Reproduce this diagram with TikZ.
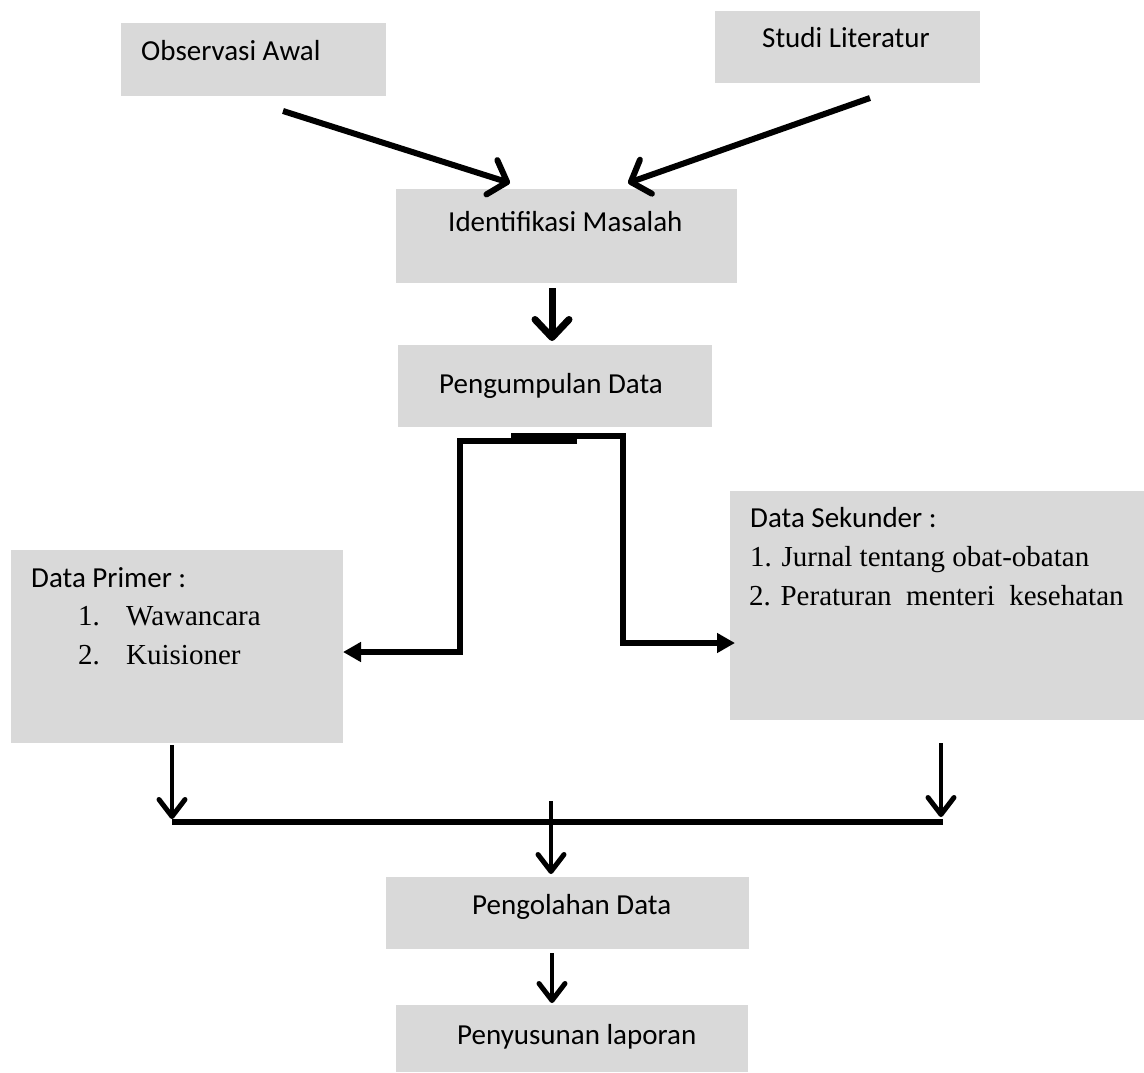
\documentclass[tikz,border=0pt]{standalone}
\usepackage{fontspec}
\setmainfont{Liberation Serif}
\newfontfamily\calfont{Carlito}
\usetikzlibrary{arrows.meta}
\definecolor{boxgray}{HTML}{D9D9D9}
\tikzset{
  box/.style={draw=none, fill=boxgray, inner sep=0pt, outer sep=0pt},
  sanstxt/.style={anchor=base west, inner sep=0pt, font=\calfont\fontsize{29}{35}\selectfont},
  seriftxt/.style={anchor=base west, inner sep=0pt, font=\fontsize{29}{35}\selectfont},
  bigarrow/.style={line width=6pt, -{Straight Barb[length=16pt,width=36pt,line width=6pt,round]}},
  downarrow/.style={line width=4.5pt, -{Straight Barb[length=17pt,width=26pt,line width=5pt,round]}},
  conn/.style={line width=5.5pt},
  triarrow/.style={line width=5.5pt, -{Triangle[length=18pt,width=19pt]}}
}
\begin{document}
\begin{tikzpicture}[x=1pt,y=-1pt]
\useasboundingbox (0,0) rectangle (1144,1073);
% boxes
\node[box, minimum width=265pt, minimum height=73pt] (obs) at (253.5,59.5) {};
\node[box, minimum width=265pt, minimum height=72pt] (stu) at (847.5,47) {};
\node[box, minimum width=341pt, minimum height=94pt] (idm) at (566.5,236) {};
\node[box, minimum width=314pt, minimum height=82pt] (pgd) at (555,386) {};
\node[box, minimum width=332pt, minimum height=193pt] (prim) at (177,646.5) {};
\node[box, minimum width=414pt, minimum height=229pt] (sek) at (937,605.5) {};
\node[box, minimum width=363pt, minimum height=72pt] (olh) at (567.5,913) {};
\node[box, minimum width=352pt, minimum height=67pt] (lap) at (572,1038.5) {};
% texts
\node[sanstxt] (obsT) at (141,61) {Observasi Awal};
\node[sanstxt] (stuT) at (762,48) {Studi Literatur};
\node[sanstxt] (idmT) at (448,231) {Identifikasi Masalah};
\node[sanstxt, anchor=base] (pgdT) at (551,393) {Pengumpulan Data};
\node[sanstxt] (primT) at (31,587) {Data Primer :};
\node[seriftxt] (primN1) at (78,625) {1.};
\node[seriftxt] (primI1) at (126,625) {Wawancara};
\node[seriftxt] (primN2) at (78,664) {2.};
\node[seriftxt] (primI2) at (126,664) {Kuisioner};
\node[sanstxt] (sekT) at (750,527) {Data Sekunder :};
\node[seriftxt] (sekI1) at (750,566) {1. Jurnal tentang obat-obatan};
\node[seriftxt] (sekI2) at (749,605) {2. Peraturan\ \ menteri\ \ kesehatan};
\node[sanstxt] (olhT) at (472,914) {Pengolahan Data};
\node[sanstxt] (lapT) at (457,1044) {Penyusunan laporan};
% connector coordinates
\coordinate (a1s) at (283,111);
\coordinate (a1e) at (510,183);
\coordinate (a2s) at (870,98);
\coordinate (a2e) at (628,183);
\coordinate (a3s) at (552,288);
\coordinate (a3e) at (552,341);
\coordinate (tl) at (460,441);
\coordinate (tm) at (577,441);
\coordinate (tm2) at (511,436);
\coordinate (tr) at (623,436);
\coordinate (pa) at (343,652);
\coordinate (pb) at (735,643);
\coordinate (l1) at (172,745);
\coordinate (l2) at (172,819);
\coordinate (r1) at (941,743);
\coordinate (r2) at (941,817);
\coordinate (hl) at (172,822);
\coordinate (hr) at (943,822);
\coordinate (c1) at (551,801);
\coordinate (c2) at (551,874);
\coordinate (d1) at (552,953);
\coordinate (d2) at (552,1003);
% connectors
\draw[bigarrow] (a1s) -- (a1e);
\draw[bigarrow] (a2s) -- (a2e);
\draw[line width=7pt, -{Straight Barb[length=18pt,width=34pt,line width=7pt,round]}] (a3s) -- (a3e);
\draw[triarrow] (tm) -- (tl) -- (tl |- pa) -- (pa);
\draw[triarrow] (tm2) -- (tr) -- (tr |- pb) -- (pb);
\draw[line width=10pt] (511,438) -- (577,438);
\draw[downarrow] (l1) -- (l2);
\draw[downarrow] (r1) -- (r2);
\draw[conn] (hl) -- (hr);
\draw[downarrow] (c1) -- (c2);
\draw[downarrow] (d1) -- (d2);
\end{tikzpicture}
\end{document}
